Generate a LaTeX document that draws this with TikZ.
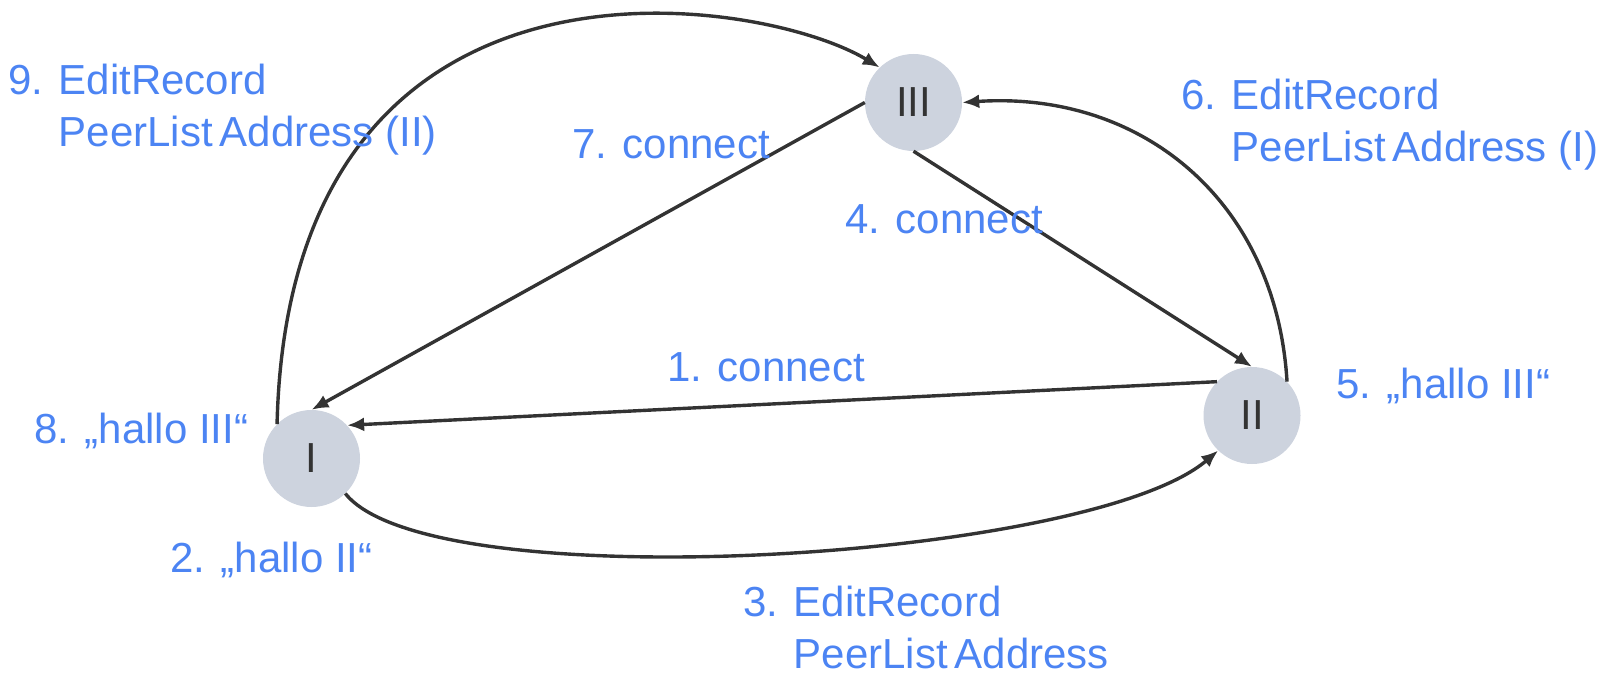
\documentclass[tikz,border=0pt]{standalone}
\usepackage{fontspec}
\setmainfont{Liberation Sans}
\usetikzlibrary{arrows.meta,positioning}
\definecolor{peerfill}{HTML}{CDD3DE}
\definecolor{msgblue}{HTML}{4C84F3}
\definecolor{linegray}{HTML}{333333}

\begin{document}
\begin{tikzpicture}[x=1pt,y=1pt,
    peer/.style={circle,fill=peerfill,minimum size=97pt,inner sep=0pt,
      font=\fontsize{42}{42}\selectfont,text=linegray},
    lbl/.style={anchor=base west,align=left,inner sep=0pt,text=msgblue,
      font=\fontsize{42}{52}\selectfont},
    msg/.style={draw=linegray,line width=3.4pt,-{Latex[length=17pt,width=14pt]}}]
    \useasboundingbox (0,0) rectangle (1608,681);
    % Peers
    \node[peer] (I)   at (311.5,222.5) {I};
    \node[peer] (II)  at (1252,265.5)  {II};
    \node[peer] (III) at (913.5,578.5) {III};
    % Messages
    \draw[msg] (II.136) -- (I.43);
    \draw[msg] (I.-46) .. controls +(85,-107) and +(-129,-110) .. (II.226);
    \draw[msg] (III.south) -- (II.north);
    \draw[msg] (II.44) .. controls +(-11,182) and +(178,12) .. (III.east);
    \draw[msg] (III.west) -- (I.north);
    \draw[msg] (I.135) .. controls +(12,505) and +(-119,72) .. (III.134);
    % Labels (multi-line ones sit on their last line)
    \node[lbl] (m1) at (667,300) {1. connect};
    \node[lbl] (m2) at (170,109) {2. „hallo II“};
    \node[lbl] (m3) at (743,13)  {3. EditRecord\\\phantom{3. }PeerList\,Address};
    \node[lbl] (m4) at (845,447) {4. connect};
    \node[lbl] (m5) at (1336,283) {5. „hallo III“};
    \node[lbl] (m6) at (1181,519) {6. EditRecord\\\phantom{6. }PeerList\,Address (I)};
    \node[lbl] (m7) at (572,522) {7. connect};
    \node[lbl] (m8) at (34,238)  {8. „hallo III“};
    \node[lbl] (m9) at (8,534)   {9. EditRecord\\\phantom{9. }PeerList\,Address (II)};
\end{tikzpicture}
\end{document}
